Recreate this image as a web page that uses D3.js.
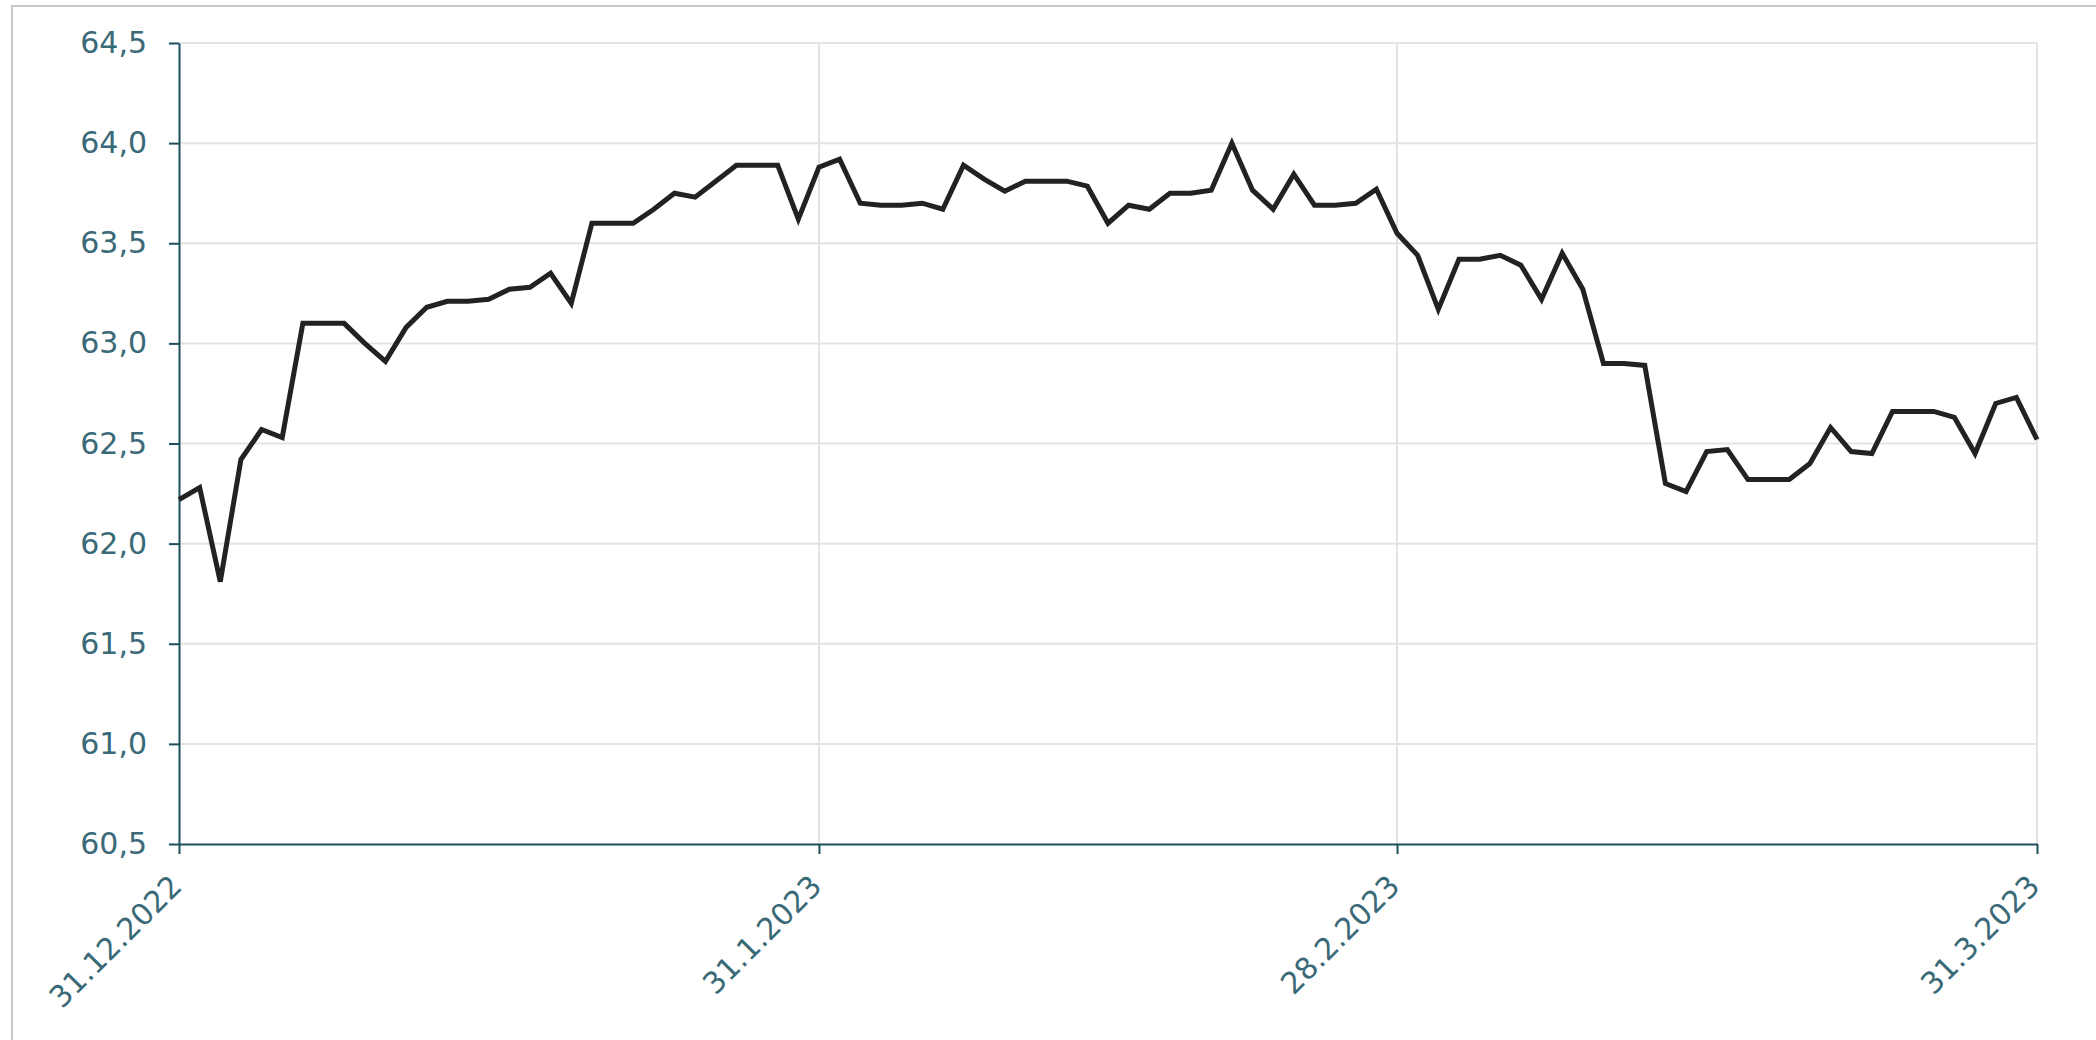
<!DOCTYPE html>
<html>
<head>
<meta charset="utf-8">
<script src="https://cdn.jsdelivr.net/npm/d3@7"></script>
<style>
  html, body { margin: 0; padding: 0; background: #fff; }
  svg { display: block; }
</style>
</head>
<body>
<svg id="chart" width="2096" height="1040"></svg>
<script>
// ---- data ----
const startDate = "2022-12-31";
const endDate = "2023-03-31";
const values = [
  62.22, 62.28, 61.81, 62.42, 62.57, 62.53, 63.10, 63.10, 63.10, 63.00,
  62.91, 63.08, 63.18, 63.21, 63.21, 63.22, 63.27, 63.28, 63.35, 63.20,
  63.60, 63.60, 63.60, 63.67, 63.75, 63.73, 63.81, 63.89, 63.89, 63.89,
  63.62, 63.88, 63.92, 63.70, 63.69, 63.69, 63.70, 63.67, 63.89, 63.82,
  63.76, 63.81, 63.81, 63.81, 63.785, 63.60, 63.69, 63.67, 63.75, 63.75,
  63.765, 64.00, 63.765, 63.67, 63.845, 63.69, 63.69, 63.70, 63.77, 63.55,
  63.44, 63.17, 63.42, 63.42, 63.44, 63.39, 63.22, 63.45, 63.27, 62.90,
  62.90, 62.89, 62.30, 62.26, 62.46, 62.47, 62.32, 62.32, 62.32, 62.40,
  62.58, 62.46, 62.45, 62.66, 62.66, 62.66, 62.63, 62.45, 62.70, 62.73,
  62.52
];
const xTickDates = ["2022-12-31", "2023-01-31", "2023-02-28", "2023-03-31"];
const xTickLabels = ["31.12.2022", "31.1.2023", "28.2.2023", "31.3.2023"];
const yTicks = [60.5, 61.0, 61.5, 62.0, 62.5, 63.0, 63.5, 64.0, 64.5];

(function () {
  const parse = d3.utcParse("%Y-%m-%d");
  const t0 = parse(startDate), t1 = parse(endDate);
  const days = d3.utcDay.range(t0, d3.utcDay.offset(t1, 1));
  const data = days.map((d, i) => ({ date: d, value: values[i] }));

  const svg = d3.select("#chart");
  const mLeft = 179, mRight = 2037, mTop = 43, mBottom = 844;
  const axisColor = "#1d4f5f";
  const textColor = "#3a6977";
  const gridColor = "#e3e3e3";
  const font = "'DejaVu Sans', Verdana, sans-serif";

  // outer frame
  svg.append("rect")
    .attr("x", 12).attr("y", 6)
    .attr("width", 2200).attr("height", 1100)
    .attr("fill", "none").attr("stroke", "#c8c8c8").attr("stroke-width", 2);

  const x = d3.scaleUtc().domain([t0, t1]).range([mLeft, mRight]);
  const y = d3.scaleLinear().domain([60.5, 64.5]).range([mBottom, mTop]);

  // horizontal grid
  svg.append("g")
    .selectAll("line").data(yTicks.filter(v => v > 60.5)).join("line")
    .attr("x1", mLeft).attr("x2", mRight)
    .attr("y1", d => y(d)).attr("y2", d => y(d))
    .attr("stroke", gridColor).attr("stroke-width", 2);

  // vertical grid
  svg.append("g")
    .selectAll("line").data(xTickDates.slice(1).map(parse)).join("line")
    .attr("x1", d => x(d)).attr("x2", d => x(d))
    .attr("y1", mTop).attr("y2", mBottom)
    .attr("stroke", gridColor).attr("stroke-width", 2);

  // y axis
  const fmt = v => d3.format(".1f")(v).replace(".", ",");
  const yAxis = svg.append("g")
    .attr("transform", `translate(${mLeft},0)`)
    .call(d3.axisLeft(y).tickValues(yTicks).tickFormat(fmt).tickSize(10).tickPadding(22).tickSizeOuter(0));
  yAxis.select(".domain").attr("stroke", axisColor).attr("stroke-width", 2);
  yAxis.selectAll(".tick line").attr("stroke", axisColor).attr("stroke-width", 2);
  yAxis.selectAll(".tick text")
    .attr("fill", textColor).style("font-family", font).style("font-size", "30px");

  // x axis
  const xAxis = svg.append("g")
    .attr("transform", `translate(0,${mBottom})`)
    .call(d3.axisBottom(x).tickValues(xTickDates.map(parse))
      .tickFormat((d, i) => xTickLabels[i]).tickSize(10).tickSizeOuter(0));
  xAxis.select(".domain").attr("stroke", axisColor).attr("stroke-width", 2);
  xAxis.selectAll(".tick line").attr("stroke", axisColor).attr("stroke-width", 2);
  xAxis.selectAll(".tick text")
    .attr("x", 0).attr("y", 0).attr("dy", 0)
    .attr("transform", "translate(4,44) rotate(-45)")
    .style("text-anchor", "end")
    .attr("fill", textColor).style("font-family", font).style("font-size", "30px");

  // line
  const line = d3.line().x(d => x(d.date)).y(d => y(d.value));
  svg.append("path")
    .datum(data)
    .attr("d", line)
    .attr("fill", "none")
    .attr("stroke", "#222")
    .attr("stroke-width", 5)
    .attr("stroke-linejoin", "miter");
})();
</script>
</body>
</html>
